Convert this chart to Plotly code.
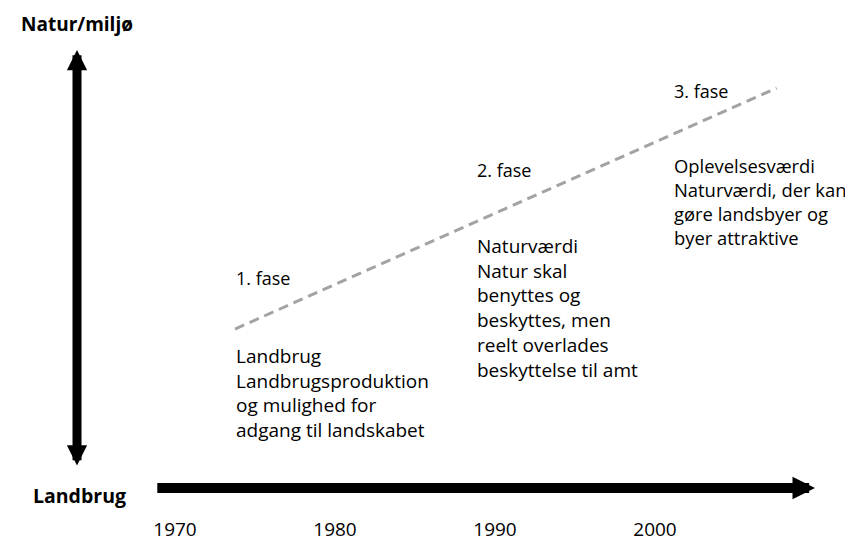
import plotly.graph_objects as go

# ---- data (x in years, y in "nature/environment level" 0-100) ----
tick_years = [1970, 1980, 1990, 2000]
tick_labels = ["1970", "1980", "1990", "2000"]

trend_years = [1973.75, 2007.6]
trend_levels = [36.81, 84.25]

phase_names = ["1. fase", "2. fase", "3. fase"]
phase_years = [1973.75, 1988.81, 2001.125]
phase_levels = [46.85, 68.11, 83.66]

phase_texts = [
    ["Landbrug", "Landbrugsproduktion", "og mulighed for", "adgang til landskabet"],
    ["Naturværdi", "Natur skal", "benyttes og", "beskyttes, men", "reelt overlades", "beskyttelse til amt"],
    ["Oplevelsesværdi", "Naturværdi, der kan", "gøre landsbyer og", "byer attraktive"],
]
phase_text_levels = [24.31, 40.85, 61.91]
phase_text_sizes = [19, 19, 18.4]

time_axis_start, time_axis_end, time_axis_level = 1968.8, 2010.0, 5.51
value_axis_year, value_axis_low, value_axis_high = 1963.875, 9.65, 91.73
top_label, bottom_label = "Natur/miljø", "Landbrug"
top_label_level, bottom_label_level = 96.85, 4.13
bottom_label_year = 1964.06

FONT = "Open Sans"
FS = 19

fig = go.Figure()

fig.add_trace(go.Scatter(
    x=trend_years, y=trend_levels, mode="lines",
    line=dict(color="#a3a3a3", width=3, dash="10px,6px"),
    hoverinfo="skip", showlegend=False,
))

annotations = []
# time arrow
annotations.append(dict(
    x=time_axis_end, y=time_axis_level, ax=time_axis_start, ay=time_axis_level,
    xref="x", yref="y", axref="x", ayref="y", text="", showarrow=True,
    arrowhead=2, arrowsize=0.45, arrowwidth=10, arrowcolor="black",
))
# value arrow (double headed)
annotations.append(dict(
    x=value_axis_year, y=value_axis_high, ax=value_axis_year, ay=value_axis_low,
    xref="x", yref="y", axref="x", ayref="y", text="", showarrow=True,
    arrowside="end+start", arrowhead=2, startarrowhead=2,
    arrowsize=0.45, startarrowsize=0.45, arrowwidth=9, arrowcolor="black",
))
annotations.append(dict(
    x=value_axis_year, y=top_label_level, xref="x", yref="y",
    text="<b>" + top_label + "</b>", showarrow=False,
    font=dict(family=FONT, size=FS, color="black"),
    xanchor="center", yanchor="middle",
))
annotations.append(dict(
    x=bottom_label_year, y=bottom_label_level, xref="x", yref="y",
    text="<b>" + bottom_label + "</b>", showarrow=False,
    font=dict(family=FONT, size=FS + 0.5, color="black"),
    xanchor="center", yanchor="middle",
))
for name, yr, lv, lines, tl, ts in zip(phase_names, phase_years, phase_levels,
                                       phase_texts, phase_text_levels, phase_text_sizes):
    annotations.append(dict(
        x=yr, y=lv, xref="x", yref="y", text=name, showarrow=False,
        font=dict(family=FONT, size=FS - 1, color="black"),
        xanchor="left", yanchor="middle", align="left", borderpad=0,
    ))
    annotations.append(dict(
        x=yr, y=tl, xref="x", yref="y", text="<br>".join(lines), showarrow=False,
        font=dict(family=FONT, size=ts, color="black"),
        xanchor="left", yanchor="middle", align="left", borderpad=0,
    ))

fig.update_layout(
    width=853, height=542,
    margin=dict(l=0, r=0, t=0, b=34),
    paper_bgcolor="white", plot_bgcolor="white",
    showlegend=False,
    annotations=annotations,
    xaxis=dict(
        range=[1959.5625, 2012.875], tickvals=tick_years, ticktext=tick_labels,
        showgrid=False, zeroline=False, showline=False, ticks="",
        tickfont=dict(family=FONT, size=FS, color="black"), fixedrange=True,
    ),
    yaxis=dict(range=[0, 100], visible=False, fixedrange=True),
)

fig.write_html("out.html")
